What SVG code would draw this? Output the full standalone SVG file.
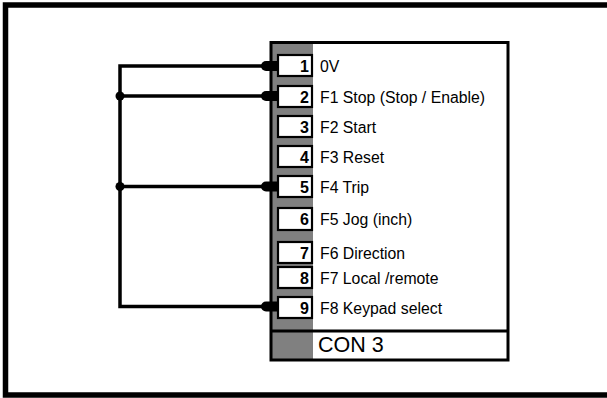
<svg xmlns="http://www.w3.org/2000/svg" width="607" height="398" viewBox="0 0 607 398">
<style>
.frame{fill:none;stroke:#000;stroke-width:5.5}
.gray{fill:#808080}
.outline{fill:none;stroke:#000;stroke-width:3}
.tb{fill:#fff;stroke:#000;stroke-width:2.2}
.num{font-family:"Liberation Sans",Arial,sans-serif;font-size:16px;font-weight:bold;text-anchor:end;fill:#000}
.lbl{font-family:"Liberation Sans",Arial,sans-serif;font-size:15.8px;fill:#000}
.con{font-family:"Liberation Sans",Arial,sans-serif;font-size:21.5px;fill:#000}
.wire{fill:none;stroke:#000;stroke-width:3.5}
.dot{fill:#000}
</style>
<defs>
<path id="stub" d="M266 -5 H279 V5 H266 A5 5 0 0 1 266 -5 Z" fill="#000"/>
</defs>
<rect class="frame" x="5.5" y="5" width="610" height="390"/>
<g id="connector">
<rect class="gray" x="271" y="42" width="42" height="318"/>
<rect x="313" y="42" width="195" height="318" fill="#fff"/>
<line x1="271" y1="331" x2="508" y2="331" stroke="#000" stroke-width="3"/>
<rect class="outline" x="271" y="42.5" width="237" height="317.5"/>
<text class="con" x="318" y="352">CON 3</text>
</g>
<g id="t1"><rect class="tb" x="278" y="55" width="34" height="21"/><text class="num" x="309" y="71.5">1</text><text class="lbl" x="320" y="71.5">0V</text></g>
<g id="t2"><rect class="tb" x="278" y="86" width="34" height="21"/><text class="num" x="309" y="102.5">2</text><text class="lbl" x="320" y="102.5">F1 Stop (Stop / Enable)</text></g>
<g id="t3"><rect class="tb" x="278" y="116" width="34" height="21"/><text class="num" x="309" y="132.5">3</text><text class="lbl" x="320" y="132.5">F2 Start</text></g>
<g id="t4"><rect class="tb" x="278" y="146" width="34" height="21"/><text class="num" x="309" y="162.5">4</text><text class="lbl" x="320" y="162.5">F3 Reset</text></g>
<g id="t5"><rect class="tb" x="278" y="176" width="34" height="21"/><text class="num" x="309" y="192.5">5</text><text class="lbl" x="320" y="192.5">F4 Trip</text></g>
<g id="t6"><rect class="tb" x="278" y="208" width="34" height="22"/><text class="num" x="309" y="224.5">6</text><text class="lbl" x="320" y="224.5">F5 Jog (inch)</text></g>
<g id="t7"><rect class="tb" x="278" y="242" width="34" height="21"/><text class="num" x="309" y="258.5">7</text><text class="lbl" x="320" y="258.5">F6 Direction</text></g>
<g id="t8"><rect class="tb" x="278" y="267" width="34" height="21"/><text class="num" x="309" y="283.5">8</text><text class="lbl" x="320" y="283.5">F7 Local /remote</text></g>
<g id="t9"><rect class="tb" x="278" y="297" width="34" height="21"/><text class="num" x="309" y="313.5">9</text><text class="lbl" x="320" y="313.5">F8 Keypad select</text></g>
<g id="connectors">
<path class="wire" d="M266 66 H120 V306.5 H266"/>
<path class="wire" d="M120 96 H266"/>
<path class="wire" d="M120 186.5 H266"/>
<circle class="dot" cx="120" cy="96" r="4.5"/>
<circle class="dot" cx="120" cy="186.5" r="4.5"/>
<use href="#stub" y="66"/>
<use href="#stub" y="96"/>
<use href="#stub" y="186.5"/>
<use href="#stub" y="306.5"/>
</g>
</svg>
